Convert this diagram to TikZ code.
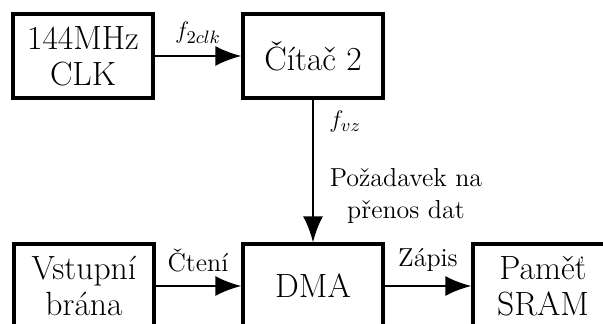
\documentclass[tikz,border=0pt]{standalone}
\usepackage{amsmath}
\usetikzlibrary{arrows.meta}

\begin{document}
\begin{tikzpicture}[x=0.5pt, y=-0.5pt,
  blok/.style={draw, line width=1.6pt, minimum width=70pt, minimum height=42pt,
    inner sep=0pt, align=center, font=\fontsize{16.8}{18}\selectfont},
  popis/.style={font=\fontsize{13}{16}\selectfont, inner sep=0pt, align=center},
  sipka/.style={line width=1.2pt, -{Latex[length=13pt, width=10pt]}}]
  \useasboundingbox (0,0) rectangle (603,324);

  % bloky
  \node[blok] (clk)   at (83,56)  {144MHz\\CLK};
  \node[blok] (citac) at (313,56) {Čítač 2};
  \node[blok] (vstup) at (84,286) {Vstupní\\brána};
  \node[blok] (dma)   at (313,286) {DMA};
  \node[blok] (sram)  at (543,286) {Paměť\\SRAM};

  % spoje
  \draw[sipka] (clk) -- (citac);
  \draw[sipka] (citac) -- (dma);
  \draw[sipka] (vstup) -- (dma);
  \draw[sipka] (dma) -- (sram);

  % popisky
  \node[popis] (f2clk) at (198,33)  {$f_{2clk}$};
  \node[popis, anchor=west] (fvz) at (329,122) {$f_{vz}$};
  \node[popis] (pozad) at (406,196) {Požadavek na\\přenos dat};
  \node[popis] (cteni) at (198,261) {Čtení};
  \node[popis] (zapis) at (428,260) {Zápis};
\end{tikzpicture}
\end{document}
